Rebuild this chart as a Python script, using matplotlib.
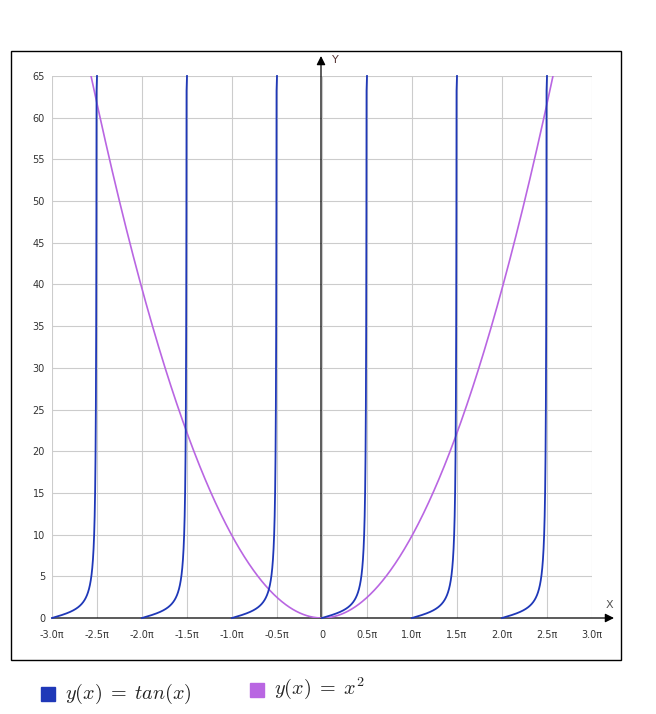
import matplotlib.pyplot as plt
import numpy as np
from matplotlib.patches import Rectangle

plt.rcParams['mathtext.fontset'] = 'cm'

# chart data
x_tick_units = [-3.0, -2.5, -2.0, -1.5, -1.0, -0.5, 0.0, 0.5, 1.0, 1.5, 2.0, 2.5, 3.0]
x_tick_labels = ['-3.0π', '-2.5π', '-2.0π', '-1.5π', '-1.0π', '-0.5π', '0',
                 '0.5π', '1.0π', '1.5π', '2.0π', '2.5π', '3.0π']
y_ticks = [0, 5, 10, 15, 20, 25, 30, 35, 40, 45, 50, 55, 60, 65]
tan_branch_starts = [-3, -2, -1, 0, 1, 2]  # tan(x) drawn on [k*pi, k*pi + pi/2)
series_labels = [r'$y(x)\;=\;tan(x)$', r'$y(x)\;=\;x^2$']
series_colors = ['#1f38b8', '#b966e2']

Y_MAX = 65
W, H = 656, 714

fig = plt.figure(figsize=(W / 100, H / 100), dpi=100)

# outer frame
fig.patches.append(Rectangle((11 / W, 1 - 660 / H), 610 / W, 609 / H,
                             transform=fig.transFigure, fill=False,
                             edgecolor='black', linewidth=1.0))

ax = fig.add_axes([52 / W, 1 - 618 / H, 540 / W, 542 / H])
ax.set_xlim(-3 * np.pi, 3 * np.pi)
ax.set_ylim(0, Y_MAX)
for s in ax.spines.values():
    s.set_visible(False)

ax.set_xticks([u * np.pi for u in x_tick_units])
ax.set_xticklabels(x_tick_labels)
ax.set_yticks(y_ticks)
ax.tick_params(length=0, labelsize=7, labelcolor='#333333')
ax.tick_params(axis='x', pad=9)
ax.tick_params(axis='y', pad=5)
ax.grid(True, color='#cccccc', linewidth=0.8)
ax.set_axisbelow(True)

# tan(x) branches
for k in tan_branch_starts:
    xs = np.linspace(k * np.pi, k * np.pi + np.pi / 2 - 1e-4, 2000)
    ys = np.tan(xs)
    keep = ys <= Y_MAX
    xs = np.append(xs[keep], k * np.pi + np.pi / 2)
    ys = np.append(ys[keep], Y_MAX)
    ax.plot(xs, ys, color=series_colors[0], linewidth=1.3, clip_on=False, zorder=4)

# x^2
xq = np.linspace(-np.sqrt(Y_MAX), np.sqrt(Y_MAX), 800)
ax.plot(xq, xq ** 2, color=series_colors[1], linewidth=1.2, zorder=3)

# axes arrows
arrow = dict(arrowstyle='-|>', color='black', linewidth=0.9, mutation_scale=13,
             shrinkA=0, shrinkB=0)
ax.annotate('', xy=(614 / W, 1 - 618 / H), xytext=(52 / W, 1 - 618 / H),
            xycoords='figure fraction', textcoords='figure fraction',
            arrowprops=arrow, annotation_clip=False, zorder=2)
ax.annotate('', xy=(321 / W, 1 - 56 / H), xytext=(321 / W, 1 - 618 / H),
            xycoords='figure fraction', textcoords='figure fraction',
            arrowprops=arrow, annotation_clip=False, zorder=2)
fig.text(609 / W, 1 - 605 / H, 'X', fontsize=8, color='#555555', ha='center', va='center')
fig.text(335 / W, 1 - 60 / H, 'Y', fontsize=8, color='#553333', ha='center', va='center')

# legend
legend_pos = [(41, 65, 694, 694), (250, 274, 690, 688)]
for (sx, tx, sq_cy, cy), lab, col in zip(legend_pos, series_labels, series_colors):
    fig.patches.append(Rectangle((sx / W, 1 - (sq_cy + 7) / H), 14 / W, 14 / H,
                                 transform=fig.transFigure, color=col))
    fig.text(tx / W, 1 - cy / H, lab, fontsize=14.5, color='#222222',
             ha='left', va='center')

fig.savefig('out.png', dpi=100)
